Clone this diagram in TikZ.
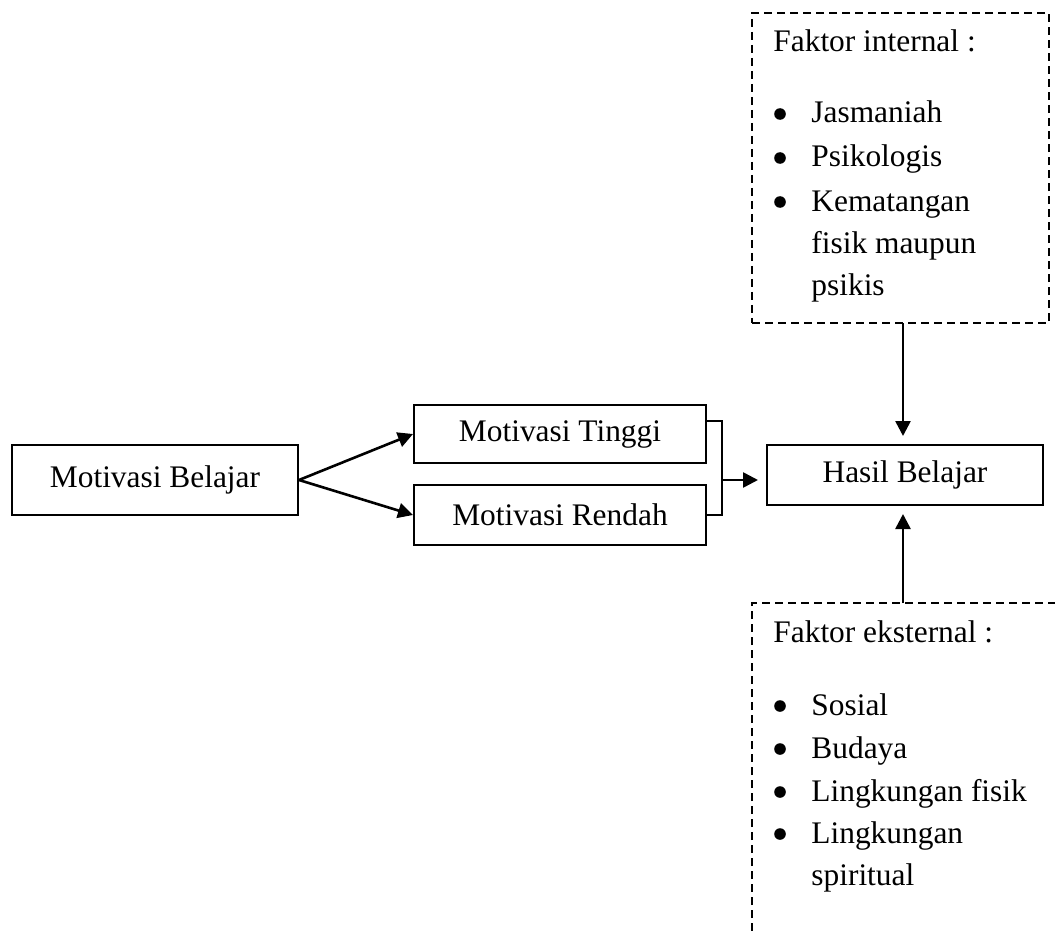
\documentclass[tikz,border=0pt]{standalone}
\usepackage{fontspec}
\setmainfont{Liberation Serif}
\usetikzlibrary{arrows.meta}
\begin{document}
\begin{tikzpicture}[x=0.5pt,y=-0.5pt,
  every node/.style={font=\fontsize{15.7}{21.25}\selectfont},
  box/.style={draw,line width=1pt,inner sep=0pt},
  dbox/.style={draw,line width=0.9pt,dash pattern=on 4pt off 2.5pt,inner sep=0pt},
  dline/.style={line width=0.9pt,dash pattern=on 4pt off 2.5pt},
  arr/.style={line width=1.3pt,-{Triangle[length=7.5pt,width=7.5pt]}},
  conn/.style={line width=1.2pt},
  txt/.style={anchor=base west,inner sep=0pt},
  bul/.style={circle,fill,inner sep=0pt,minimum size=5.8pt},
]
\useasboundingbox (0,0) rectangle (1055,931);
\node[box,minimum width=143pt,minimum height=35pt] (mb) at (155,480) {Motivasi Belajar};
\node[box,minimum width=146pt,minimum height=29pt] (mt) at (560,434) {Motivasi Tinggi};
\node[box,minimum width=146pt,minimum height=30pt] (mr) at (560,515) {Motivasi Rendah};
\node[box,minimum width=138pt,minimum height=30pt] (hb) at (905,475) {Hasil Belajar};
\node[dbox,minimum width=148.5pt,minimum height=155pt] (int) at (900.5,168) {};
\draw[arr] (mb.east) -- (mt.west);
\draw[arr] (mb.east) -- (mr.west);
\coordinate (bt) at (722,421);
\coordinate (bb) at (722,515);
\coordinate (bm) at (722,480);
\draw[conn] (mt.east |- bt) -- (bt) -- (bb) -- (mr.east);
\draw[arr,shorten >=4pt] (bm) -- (hb.west |- bm);
\coordinate (ia) at (903,323);
\draw[arr,shorten >=4pt] (ia) -- (ia |- hb.north);
\coordinate (ea) at (903,603);
\coordinate (el) at (752,931);
\coordinate (etl) at (752,603);
\coordinate (etr) at (1055,603);
\draw[dline] (el) -- (etl) -- (etr);
\draw[arr,shorten >=4pt] (ea) -- (ea |- hb.south);
% internal text
\node[txt] (it0) at (773,52) {Faktor internal :};
\node[bul] (ib1) at (780,114) {};
\node[txt] (it1) at (811,123) {Jasmaniah};
\node[bul] (ib2) at (780,158) {};
\node[txt] (it2) at (811,167) {Psikologis};
\node[bul] (ib3) at (780,202) {};
\node[txt] (it3) at (811,211) {Kematangan};
\node[txt] (it4) at (811,253) {fisik maupun};
\node[txt] (it5) at (811,295) {psikis};
% external text
\node[txt] (et0) at (773,642) {Faktor eksternal :};
\node[bul] (eb1) at (780,706) {};
\node[txt] (et1) at (811,715) {Sosial};
\node[bul] (eb2) at (780,749) {};
\node[txt] (et2) at (811,758) {Budaya};
\node[bul] (eb3) at (780,792) {};
\node[txt] (et3) at (811,801) {Lingkungan fisik};
\node[bul] (eb4) at (780,834) {};
\node[txt] (et4) at (811,843) {Lingkungan};
\node[txt] (et5) at (811,885) {spiritual};
\end{tikzpicture}
\end{document}
